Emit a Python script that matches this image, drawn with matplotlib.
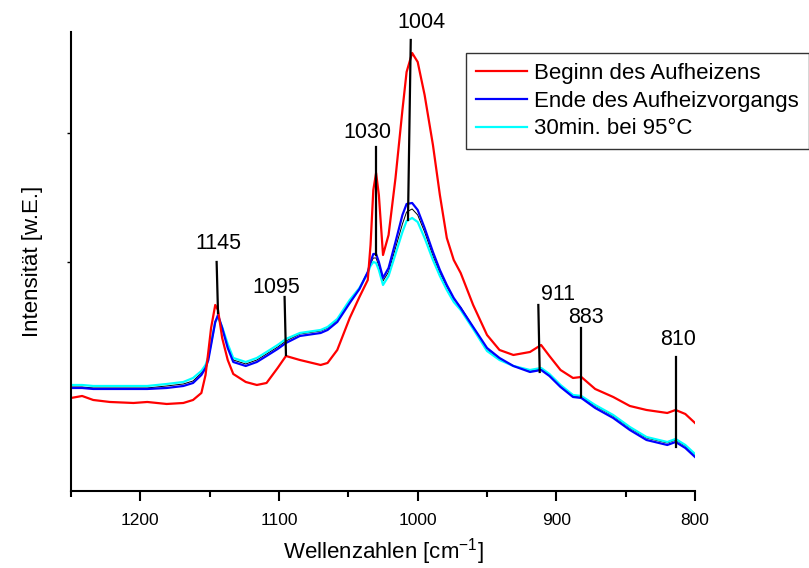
import numpy as np
import matplotlib
matplotlib.use('Agg')
import matplotlib.pyplot as plt

plt.rcParams['font.family'] = ['Liberation Sans', 'DejaVu Sans']

# wave numbers (cm^-1), shared by all spectra
wn = [1250, 1242, 1234, 1222, 1205, 1195, 1181, 1169, 1162, 1156,
      1153, 1151, 1149, 1146, 1144, 1141, 1137, 1133, 1124, 1116,
      1109, 1101, 1095, 1085, 1070, 1065, 1058, 1049, 1042, 1036,
      1034, 1032, 1030, 1028, 1025, 1021, 1016, 1011, 1008, 1004,
      1000, 995, 989, 984, 979, 974, 969, 960, 950, 941,
      931, 919, 911, 905, 897, 888, 882, 872, 859, 847,
      835, 820, 814, 807, 800]

# Beginn des Aufheizens
beginn = [122, 124, 120, 118, 117, 118, 116, 117, 120, 127,
          145, 168, 192, 215, 210, 182, 160, 146, 138, 135,
          137, 152, 164, 160, 155, 157, 170, 202, 223, 240,
          275, 330, 347, 325, 265, 285, 342, 410, 448, 467,
          458, 425, 375, 325, 282, 260, 247, 215, 185, 170,
          165, 168, 175, 164, 150, 142, 143, 131, 123, 114,
          110, 107, 110, 106, 97]

# Ende des Aufheizvorgangs
ende = [132, 132, 131, 131, 131, 131, 132, 134, 137, 145,
        152, 160, 175, 198, 205, 192, 172, 158, 154, 158,
        164, 171, 177, 184, 187, 190, 198, 217, 231, 248,
        258, 266, 266, 258, 242, 252, 278, 305, 316, 317,
        310, 292, 268, 250, 235, 222, 212, 193, 172, 162,
        154, 148, 150, 144, 133, 123, 122, 112, 102, 90,
        80, 75, 78, 72, 63]

# 30min. bei 95°C
nach30 = [135, 135, 134, 134, 134, 134, 136, 138, 142, 149,
          155, 163, 177, 198, 203, 193, 176, 162, 158, 162,
          168, 175, 181, 187, 190, 193, 201, 220, 232, 247,
          254, 258, 257, 250, 235, 244, 266, 288, 299, 302,
          298, 282, 260, 244, 230, 218, 210, 191, 169, 160,
          154, 150, 152, 146, 135, 125, 124, 115, 105, 93,
          83, 78, 81, 75, 66]

# extra thin black spectrum (not in legend)
schwarz = [133, 133, 132, 132, 132, 132, 134, 136, 139, 147,
           153, 161, 176, 198, 204, 193, 174, 160, 156, 160,
           166, 173, 179, 186, 189, 192, 200, 219, 232, 248,
           256, 262, 262, 254, 239, 248, 272, 296, 308, 311,
           305, 288, 264, 247, 233, 221, 213, 193, 170, 161,
           154, 149, 151, 145, 134, 124, 123, 114, 104, 92,
           82, 77, 80, 74, 65]

# peak markers: label, line x (top, bottom), line y (top, bottom), text position
peak_labels = ['1145', '1095', '1030', '1004', '911', '883', '810']
line_x_top = [1145, 1096, 1030, 1005, 913, 882, 814]
line_x_bot = [1144, 1095, 1030, 1007, 912, 882, 814]
line_y_top = [258, 223, 373, 480, 215, 192, 163]
line_y_bot = [207, 165, 265, 300, 148, 123, 73]
text_x = [1144, 1102, 1036, 997, 899, 879, 812]
text_y = [276, 232, 387, 497, 225, 202, 180]

fig = plt.figure(figsize=(8.09, 5.68), dpi=100)
ax = fig.add_axes([0.0878, 0.1356, 0.7713, 0.8081])

ax.plot(wn, schwarz, color='black', lw=0.7)
ax.plot(wn, nach30, color='cyan', lw=1.6, label='30min. bei 95°C')
ax.plot(wn, ende, color='#0000ff', lw=1.6, label='Ende des Aufheizvorgangs')
ax.plot(wn, beginn, color='#ff0000', lw=1.6, label='Beginn des Aufheizens')

for i in range(len(peak_labels)):
    ax.plot([line_x_top[i], line_x_bot[i]], [line_y_top[i], line_y_bot[i]],
            color='black', lw=1.6, clip_on=False)
    ax.text(text_x[i], text_y[i], peak_labels[i], fontsize=15.5,
            ha='center', va='center', clip_on=False)

ax.set_xlim(1250, 800)
ax.set_ylim(29, 488)
ax.set_xticks([1200, 1100, 1000, 900, 800])
ax.set_xticks([1250, 1150, 1050, 950, 850], minor=True)
ax.set_yticks([])
ax.set_yticks([258, 387], minor=True)
ax.tick_params(axis='x', which='major', direction='out', length=7, width=1.5, labelsize=12.5, pad=9)
ax.tick_params(axis='x', which='minor', direction='out', length=4, width=1.5)
ax.tick_params(axis='y', which='minor', direction='out', length=3, width=1)
ax.spines['top'].set_visible(False)
ax.spines['right'].set_visible(False)
ax.spines['left'].set_linewidth(1.5)
ax.spines['bottom'].set_linewidth(1.5)

ax.set_xlabel('Wellenzahlen [cm$^{\\mathregular{-1}}$]', fontsize=16, labelpad=6)
ax.set_ylabel('Intensität [w.E.]', fontsize=16, labelpad=14)

handles, labels = ax.get_legend_handles_labels()
order = [2, 1, 0]
leg = ax.legend([handles[k] for k in order], [labels[k] for k in order],
                loc='upper left', bbox_to_anchor=(0.576, 0.9067),
                bbox_transform=fig.transFigure, fontsize=16, frameon=True,
                fancybox=False, edgecolor='black', borderaxespad=0,
                handlelength=2.3, handletextpad=0.3, labelspacing=0.3,
                borderpad=0.45)
leg.get_frame().set_linewidth(1.0)
for h in leg.get_lines():
    h.set_linewidth(1.6)

plt.savefig('out.png', dpi=100)
